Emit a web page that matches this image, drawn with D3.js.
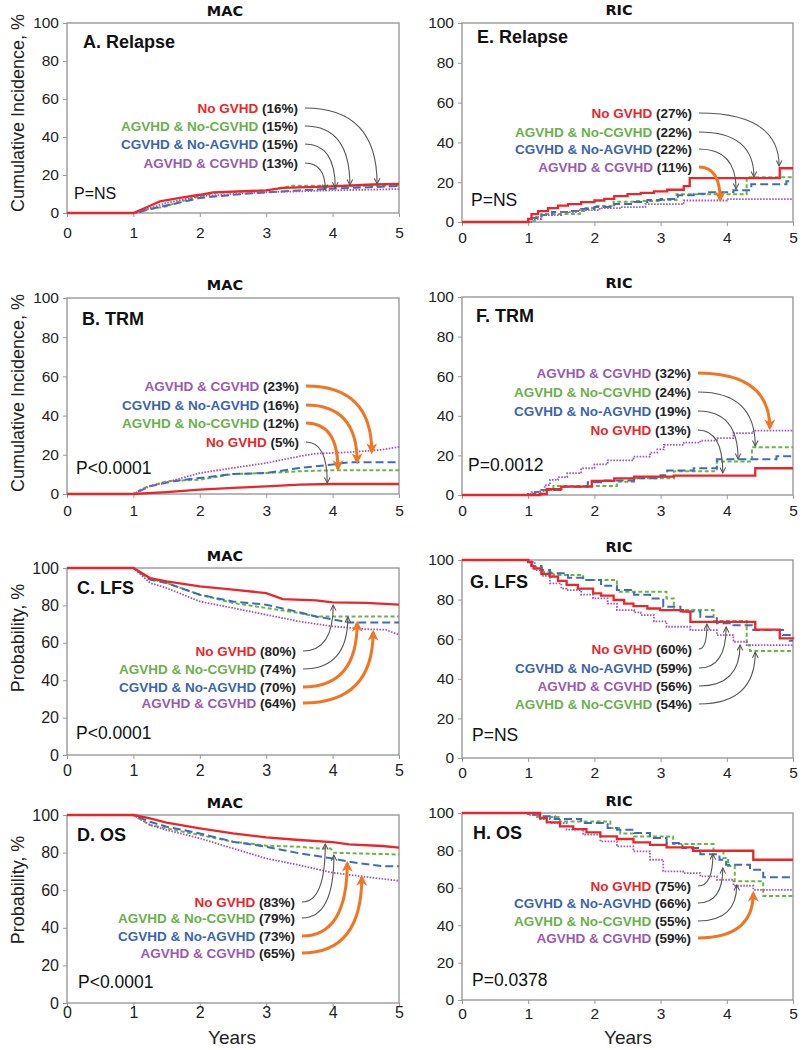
<!DOCTYPE html>
<html><head><meta charset="utf-8">
<script src="https://cdn.jsdelivr.net/npm/d3@7"></script>
<style>body{margin:0;background:#fff}svg{display:block}</style>
</head><body><svg id="c" width="803" height="1050"></svg>
<script>
const xTicks=[0,1,2,3,4,5];
const yTicks=[0,20,40,60,80,100];
const groups=["No GVHD","AGVHD & No-CGVHD","CGVHD & No-AGVHD","AGVHD & CGVHD"];

// A. MAC Relapse
const A_red=[[0,0],[1,0],[1.2,3],[1.4,6.1],[1.7,7.9],[2.0,9.6],[2.2,10.9],[3.0,11.9],[3.25,13.2],[4.0,14],[4.6,15],[5,15.3]];
const A_green=[[0,0],[1.05,0],[1.2,1.8],[1.5,3.5],[1.6,4.9],[2.0,8.8],[2.2,10.5],[3.0,11.9],[3.3,13.7],[3.4,14.4],[5,14.4]];
const A_blue=[[0,0],[1.05,0],[1.25,2.1],[1.5,3.9],[2.0,7.9],[2.5,9.6],[3.0,10.9],[3.5,11.9],[4.0,12.8],[5,14.2]];
const A_purple=[[0,0],[1.05,0],[1.25,2.6],[1.5,5.3],[2.0,8.8],[2.5,10],[3.0,10.9],[3.5,11.4],[4.0,11.9],[5,12.6]];
// B. MAC TRM
const B_red=[[0,0],[1,0],[1.5,1],[2.0,2.2],[2.5,3.1],[3.0,3.9],[3.5,4.8],[4.0,5.1],[5,5.1]];
const B_green=[[0,0],[1,0],[1.15,3],[1.5,6.5],[2.0,7.3],[2.5,10.2],[3.0,10.7],[3.5,11.6],[4.0,12.1],[5,12.1]];
const B_blue=[[0,0],[1,0],[1.24,3.9],[1.6,6.5],[2.0,8.2],[2.5,10.2],[3.0,10.7],[3.5,13.3],[4.0,15],[4.25,16.2],[5,16.2]];
const B_purple=[[0,0],[1,0],[1.24,3.9],[1.5,6],[2.0,10.7],[2.5,13.3],[3.0,15.8],[3.5,19.2],[3.75,20.6],[4.25,21.3],[4.75,22.6],[5,24]];
// C. MAC LFS
const C_red=[[0,100],[1,100],[1.25,94.6],[1.5,92.9],[2.0,90.2],[2.5,88.4],[3.0,86.6],[3.25,83.4],[3.75,82.7],[4.0,81.6],[4.5,81.3],[5,80.4]];
const C_green=[[0,100],[1,100],[1.25,94.1],[1.5,92],[2.0,85.7],[2.5,81.3],[3.0,78.6],[3.5,75.9],[3.75,74.1],[5,74.1]];
const C_blue=[[0,100],[1,100],[1.25,93.8],[1.5,92],[2.0,85.7],[2.5,82.1],[3.0,80.4],[3.5,76.3],[3.75,74.1],[4.25,70.9],[5,70.9]];
const C_purple=[[0,100],[1,100],[1.25,92],[1.5,89.3],[2.0,82.1],[2.5,78.6],[3.0,75],[3.5,71.4],[4.0,68.8],[4.5,67.3],[4.8,67],[5,64.3]];
// D. MAC OS
const D_red=[[0,100],[1,100],[1.25,98.2],[1.5,95.9],[2.0,92.9],[2.5,90.2],[3.0,88.1],[3.5,86.7],[4.0,85.6],[4.25,84.4],[4.75,83.5],[5,82.6]];
const D_green=[[0,100],[1,100],[1.25,94.7],[1.5,92.9],[2.0,89.3],[2.5,85.8],[3.0,83.7],[3.5,83.1],[3.8,82.2],[3.97,82.2],[4.02,79.9],[5,79]];
const D_blue=[[0,100],[1,100],[1.25,96.4],[1.5,93.8],[2.0,90.2],[2.5,85.8],[3.0,83.1],[3.5,79.6],[4.0,76.9],[4.25,75.1],[4.75,72.8],[5,72.8]];
const D_purple=[[0,100],[1,100],[1.25,94.7],[1.5,92],[2.0,87.6],[2.5,82.2],[3.0,76.9],[3.5,73.3],[4.0,69.3],[4.5,67.1],[5,65]];
// E. RIC Relapse
const E_red=[[0,0],[1.0,1.5],[1.05,4],[1.15,5.5],[1.3,7],[1.45,8.2],[1.6,9],[1.8,10],[2.0,10.8],[2.15,11.6],[2.3,13],[2.5,14],[2.7,14.6],[2.9,15.4],[3.1,16.2],[3.35,18],[3.44,22],[4.8,27],[5,27]];
const E_green=[[0,0],[1.05,0.5],[1.1,2.5],[1.2,4],[1.78,5.5],[1.85,7],[2.0,8],[2.29,10.2],[2.6,10.5],[3.0,11],[3.24,14],[4.3,22.5],[5,22.5]];
const E_blue=[[0,0],[1.05,2],[1.2,3.5],[1.36,5],[1.6,5.5],[1.8,6.5],[2.0,7.5],[2.3,9],[2.6,10],[2.8,11],[3.0,11.5],[3.26,13.5],[3.5,14.2],[3.7,15],[4.1,16],[4.37,19],[4.9,20.5],[5,20.5]];
const E_purple=[[0,0],[1.05,1.5],[1.2,3.5],[1.5,5],[1.75,6],[2.08,7],[2.4,7.5],[2.77,9],[3.35,10.8],[4.0,11.5],[5,11.5]];
// F. RIC TRM
const F_red=[[0,0],[1.18,0.5],[1.28,2.9],[1.5,4.2],[1.96,7.1],[2.3,8.4],[2.6,9.3],[3.2,9.8],[4.43,13.5],[5,13.5]];
const F_green=[[0,0],[1.02,0.8],[1.23,2.5],[1.38,4.6],[2.34,6.7],[2.6,8.4],[3.2,12],[3.85,16.9],[4.38,24.1],[5,24.1]];
const F_blue=[[0,0],[1.0,0.5],[1.1,1.5],[1.2,2.5],[1.5,4.2],[1.9,6.5],[2.1,7.3],[2.6,8.4],[3.0,10],[3.1,12.4],[3.5,13.5],[3.85,18],[4.75,19.6],[5,19.6]];
const F_purple=[[0,0],[1.0,0.5],[1.05,1.5],[1.18,2.5],[1.25,5],[1.33,7.6],[1.45,9],[1.59,11],[1.8,13.5],[2.0,15.5],[2.2,17.5],[2.59,19.4],[2.84,21.4],[2.95,23],[3.05,25.3],[3.35,26.5],[3.6,27.5],[3.85,28.7],[4.1,31.2],[4.4,32.5],[5,32.5]];
// G. RIC LFS
const G_red=[[0,100],[1.0,99],[1.05,97],[1.08,95.8],[1.2,93],[1.33,91.6],[1.45,89.5],[1.58,87.4],[1.75,85.5],[1.98,83.1],[2.1,82],[2.29,79.8],[2.45,78],[2.59,76.7],[2.8,75.5],[2.99,74.7],[3.34,73.9],[3.45,68.8],[4.43,64.8],[4.8,60.4],[5,60]];
const G_green=[[0,100],[1.0,99],[1.05,96.6],[1.2,94],[1.38,92.4],[1.83,89.9],[2.34,84],[3.09,80.6],[3.2,74.7],[3.8,69.2],[4.3,57],[4.35,54],[5,54]];
const G_blue=[[0,100],[1.0,99],[1.05,97],[1.2,95],[1.33,93.3],[1.6,91],[1.83,89.9],[2.1,87],[2.34,84.8],[2.6,82.5],[2.84,80.6],[3.04,76.4],[3.3,74],[3.6,71.3],[3.85,68],[4.1,67],[4.4,64.6],[4.85,62.1],[4.95,59.2],[5,59.2]];
const G_purple=[[0,100],[1.0,99],[1.1,94.9],[1.2,92],[1.33,88.2],[1.5,85.5],[1.58,84.8],[1.8,82.5],[1.98,80.6],[2.2,78],[2.34,74.7],[2.6,73.5],[2.7,72.2],[2.9,69],[3.09,66.3],[3.45,64.6],[3.85,62.1],[4.1,58.7],[4.3,57],[5,56.5]];
// H. RIC OS
const H_red=[[0,100],[1.18,97.3],[1.28,95],[1.48,92.9],[1.68,91.4],[1.88,89.6],[2.09,87.5],[2.34,86.1],[2.59,84.3],[2.84,83],[3.09,81.6],[3.49,79.8],[4.4,75],[5,75]];
const H_green=[[0,100],[1.1,97.9],[1.48,95.5],[2.24,92],[2.39,89],[2.6,87.5],[3.19,83.4],[3.8,79.5],[3.95,76],[4.02,71.6],[4.12,63.5],[4.55,55.6],[5,55.6]];
const H_blue=[[0,100],[1.0,99],[1.2,98.2],[1.4,96.8],[1.8,94.6],[2.2,92],[2.34,91.1],[2.6,89.3],[2.84,86.6],[3.09,83.9],[3.33,81.3],[3.6,78],[3.89,75],[3.99,72.3],[4.35,69.6],[4.55,65.7],[5,65.7]];
const H_purple=[[0,100],[1.0,99],[1.18,96.8],[1.33,94.6],[1.58,91.1],[1.83,88.4],[2.09,84.8],[2.34,82.1],[2.59,79.5],[2.84,75],[3.04,68.8],[3.34,67.9],[3.6,66.1],[3.85,64.3],[4.1,61.1],[4.4,58.9],[5,58.9]];

// annotations: [group index, percent label, target year, target value, arrow kind]
const A_ann=[[0,"16%",4.67,15.3,"g"],[1,"15%",4.26,14.7,"g"],[2,"15%",4.04,13.2,"g"],[3,"13%",3.89,12.1,"g"]];
const B_ann=[[3,"23%",4.59,21.4,"o"],[2,"16%",4.37,16.3,"o"],[1,"12%",4.08,12.8,"o"],[0,"5%",3.92,5.6,"g"]];
const C_ann=[[0,"80%",4.01,80.2,"g"],[1,"74%",4.23,73.8,"g"],[2,"70%",4.37,70.6,"o"],[3,"64%",4.61,65.8,"o"]];
const D_ann=[[0,"83%",3.89,84.6,"g"],[1,"79%",4.02,78.7,"g"],[2,"73%",4.22,74.5,"o"],[3,"65%",4.44,67,"o"]];
const E_ann=[[0,"27%",4.79,28.1,"g"],[1,"22%",4.41,22.6,"g"],[2,"22%",4.14,16.6,"g"],[3,"11%",3.90,11,"o"]];
const F_ann=[[3,"32%",4.65,33.8,"o"],[1,"24%",4.43,24.7,"g"],[2,"19%",4.17,18.2,"g"],[0,"13%",3.94,11.1,"g"]];
const G_ann=[[0,"60%",3.70,67.7,"g"],[2,"59%",3.99,66.2,"g"],[3,"56%",4.20,57.1,"g"],[1,"54%",4.43,53.5,"g"]];
const H_ann=[[0,"75%",3.79,78.1,"g"],[2,"66%",3.94,70.6,"g"],[1,"55%",4.15,61.5,"g"],[3,"59%",4.40,57.2,"o"]];

const panels=[
 {title:"MAC",label:"A. Relapse",p:"P=NS",yTitle:"Cumulative Incidence, %",series:[A_red,A_green,A_blue,A_purple],ann:A_ann,step:false,
  L:{x0:67,x1:399,y0:23,y1:213,tX:225,tY:11,lX:83,lY:42,pX:74,pY:193,pS:16,aR:298,aY:[108,126,144,163],fs:15.5,xPad:10,ytX:18,ytY:113}},
 {title:"MAC",label:"B. TRM",p:"P<0.0001",yTitle:"Cumulative Incidence, %",series:[B_red,B_green,B_blue,B_purple],ann:B_ann,step:false,
  L:{x0:67,x1:399,y0:298,y1:494,tX:225,tY:285,lX:82,lY:319,pX:76,pY:468,pS:17.5,aR:299,aY:[386,405,423,442],fs:15.5,xPad:7,ytX:18,ytY:393}},
 {title:"MAC",label:"C. LFS",p:"P<0.0001",yTitle:"Probability, %",series:[C_red,C_green,C_blue,C_purple],ann:C_ann,step:false,
  L:{x0:67,x1:399,y0:568,y1:755,tX:225,tY:556,lX:77,lY:588,pX:76,pY:733,pS:17.5,aR:296,aY:[651,669,687,703],fs:16,xPad:6,ytX:18,ytY:638}},
 {title:"MAC",label:"D. OS",p:"P<0.0001",yTitle:"Probability, %",series:[D_red,D_green,D_blue,D_purple],ann:D_ann,step:false,years:true,
  L:{x0:67,x1:399,y0:815,y1:1003,tX:225,tY:803,lX:77,lY:835,pX:78,pY:982,pS:17.5,aR:295,aY:[902,918,936,953],fs:16,xPad:0,ytX:18,ytY:890,yrX:232,yrY:1037}},
 {title:"RIC",label:"E. Relapse",p:"P=NS",series:[E_red,E_green,E_blue,E_purple],ann:E_ann,step:true,
  L:{x0:462,x1:793,y0:23,y1:222,tX:619,tY:10,lX:477,lY:37,pX:471,pY:200,pS:17.5,aR:692,aY:[113,132,149,167],fs:15.5,xPad:6}},
 {title:"RIC",label:"F. TRM",p:"P=0.0012",series:[F_red,F_green,F_blue,F_purple],ann:F_ann,step:true,
  L:{x0:462,x1:793,y0:297,y1:495,tX:619,tY:283,lX:476,lY:316,pX:468,pY:465,pS:17.5,aR:691,aY:[373,392,411,430],fs:15.5,xPad:6}},
 {title:"RIC",label:"G. LFS",p:"P=NS",series:[G_red,G_green,G_blue,G_purple],ann:G_ann,step:true,
  L:{x0:462,x1:793,y0:560,y1:758,tX:619,tY:547,lX:470,lY:582,pX:472,pY:735,pS:17.5,aR:692,aY:[649,668,686,704],fs:15.5,xPad:5}},
 {title:"RIC",label:"H. OS",p:"P=0.0378",series:[H_red,H_green,H_blue,H_purple],ann:H_ann,step:true,years:true,
  L:{x0:462,x1:793,y0:813,y1:1000,tX:619,tY:801,lX:473,lY:833,pX:472,pY:980,pS:17.5,aR:691,aY:[886,903,921,938],fs:15.5,xPad:4,yrX:628,yrY:1037}}
];

const styles=[
 {c:"#e8262b",tc:"#e8262b",w:2.3,d:null},
 {c:"#6cb544",tc:"#6ab04c",w:2,d:"4,2.5"},
 {c:"#3f6cb8",tc:"#3b64b0",w:2,d:"8,4"},
 {c:"#a05ab4",tc:"#9a5ab0",w:1.8,d:"1.6,1.4"}
];
const ORANGE="#f07623", GREY="#555";
const FONT="'Liberation Sans', Arial, sans-serif";

const svg=d3.select("#c");
const defs=svg.append("defs");
defs.append("marker").attr("id","mg").attr("viewBox","0 0 10 10").attr("refX",9).attr("refY",5)
 .attr("markerWidth",7).attr("markerHeight",7).attr("markerUnits","userSpaceOnUse").attr("orient","auto")
 .append("path").attr("d","M1,1 L9,5 L1,9").attr("fill","none").attr("stroke",GREY).attr("stroke-width",1.5);
defs.append("marker").attr("id","mo").attr("viewBox","0 0 10 10").attr("refX",8).attr("refY",5)
 .attr("markerWidth",12).attr("markerHeight",11).attr("markerUnits","userSpaceOnUse").attr("orient","auto")
 .append("path").attr("d","M0,0 L10,5 L0,10 L3,5 Z").attr("fill",ORANGE);

panels.forEach(P=>{
  const L=P.L;
  const x=d3.scaleLinear().domain([0,5]).range([L.x0,L.x1]);
  const y=d3.scaleLinear().domain([0,100]).range([L.y1,L.y0]);
  const g=svg.append("g");
  const xa=g.append("g").attr("transform",`translate(0,${L.y1})`)
    .call(d3.axisBottom(x).tickValues(xTicks).tickSize(4).tickPadding(L.xPad).tickFormat(d3.format("d")));
  const ya=g.append("g").attr("transform",`translate(${L.x0},0)`)
    .call(d3.axisLeft(y).tickValues(yTicks).tickSize(4).tickPadding(4).tickFormat(d3.format("d")));
  [xa,ya].forEach(a=>{
    a.select(".domain").remove();
    a.selectAll("line").attr("stroke","#999");
    a.selectAll("text").attr("font-family",FONT).attr("font-size",L.fs).attr("fill","#222");
  });
  g.append("rect").attr("x",L.x0).attr("y",L.y0).attr("width",L.x1-L.x0).attr("height",L.y1-L.y0)
    .attr("fill","none").attr("stroke","#999").attr("stroke-width",1.4);
  const line=d3.line().x(d=>x(d[0])).y(d=>y(d[1])).curve(P.step?d3.curveStepAfter:d3.curveLinear);
  [1,2,3,0].forEach(i=>{
    const s=styles[i];
    g.append("path").datum(P.series[i]).attr("d",line).attr("fill","none")
      .attr("stroke",s.c).attr("stroke-width",s.w).attr("stroke-dasharray",s.d);
  });
  g.append("text").attr("x",L.tX).attr("y",L.tY).attr("dy","0.35em").attr("text-anchor","middle")
    .attr("font-family","'DejaVu Sans', Verdana, sans-serif").attr("font-weight","bold").attr("font-size",14.5)
    .attr("fill","#111").text(P.title);
  g.append("text").attr("x",L.lX).attr("y",L.lY).attr("dy","0.35em").attr("font-family",FONT)
    .attr("font-weight","bold").attr("font-size",18).attr("fill","#111").text(P.label);
  g.append("text").attr("x",L.pX).attr("y",L.pY).attr("dy","0.35em").attr("font-family",FONT)
    .attr("font-size",L.pS).attr("fill","#111").text(P.p);
  if(P.yTitle){
    g.append("text").attr("transform",`translate(${L.ytX},${L.ytY}) rotate(-90)`).attr("dy","0.35em")
      .attr("text-anchor","middle").attr("font-family",FONT).attr("font-size",18).attr("fill","#222").text(P.yTitle);
  }
  if(P.years){
    g.append("text").attr("x",L.yrX).attr("y",L.yrY).attr("dy","0.35em").attr("text-anchor","middle")
      .attr("font-family",FONT).attr("font-size",19).attr("fill","#222").text("Years");
  }
  P.ann.forEach((a,k)=>{
    const [gi,pct,ty,tv,kind]=a;
    const ry=L.aY[k];
    const t=g.append("text").attr("x",L.aR).attr("y",ry).attr("dy","0.35em").attr("text-anchor","end")
      .attr("font-family",FONT).attr("font-weight","bold").attr("font-size",13.5);
    t.append("tspan").attr("fill",styles[gi].tc).text(groups[gi]);
    t.append("tspan").attr("fill","#222").text(" ("+pct+")");
    const sx=L.aR+7, sy=ry, ex=x(ty), ey=y(tv);
    g.append("path").attr("d",`M${sx},${sy} Q${ex},${sy} ${ex},${ey}`).attr("fill","none")
      .attr("stroke",kind==="o"?ORANGE:GREY).attr("stroke-width",kind==="o"?3:1.1)
      .attr("marker-end",kind==="o"?"url(#mo)":"url(#mg)");
  });
});
</script></body></html>
